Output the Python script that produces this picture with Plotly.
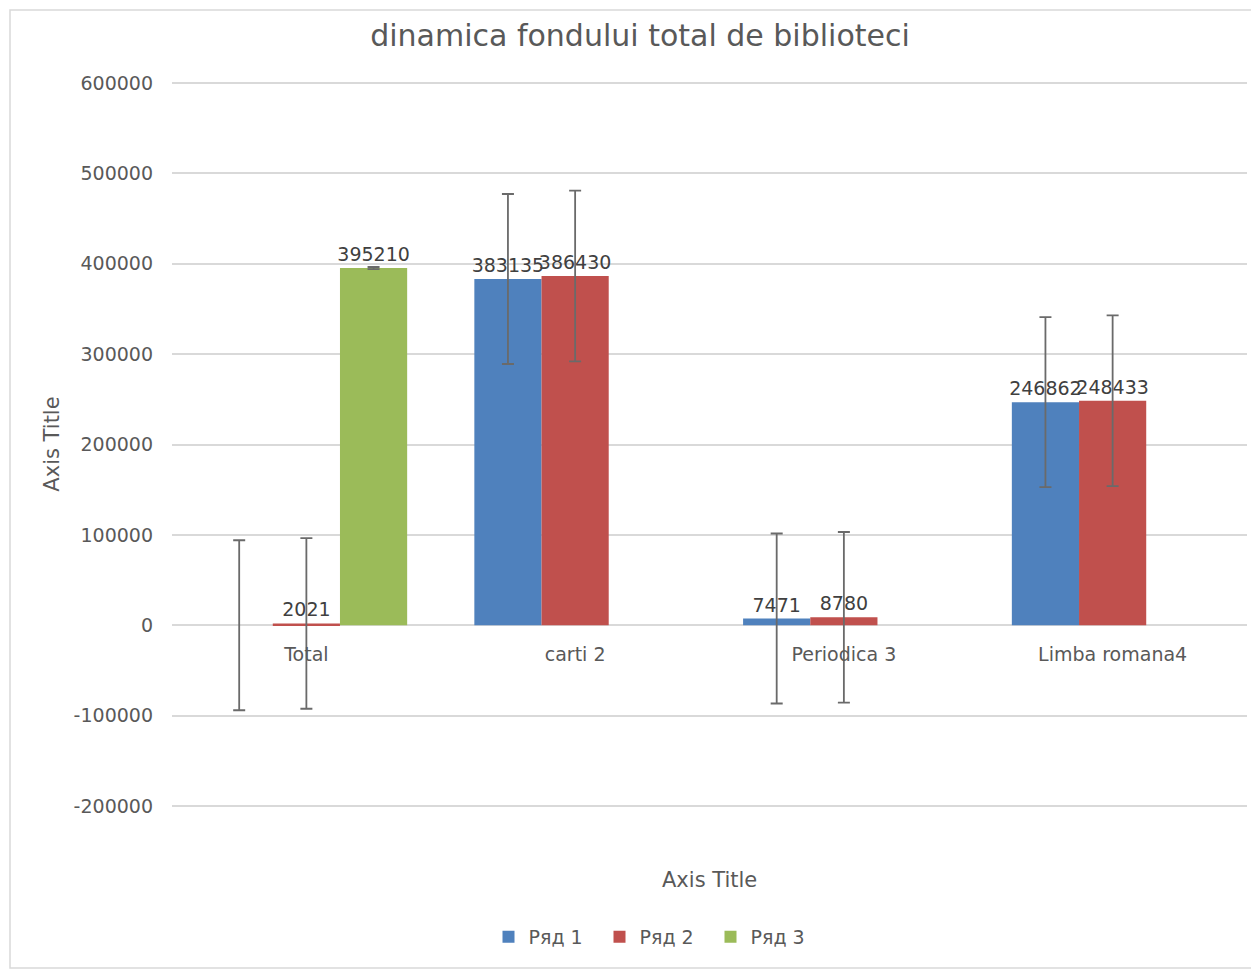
import plotly.graph_objects as go

categories = ["Total", "carti 2", "Periodica 3", "Limba romana4"]
series_names = ["Ряд 1", "Ряд 2", "Ряд 3"]
ryad1 = [0, 383135, 7471, 246862]
ryad2 = [2021, 386430, 8780, 248433]
ryad3 = [395210, None, None, None]
err1 = 94070
err2 = 94390
err3 = 1200
y_tick_vals = [-200000, -100000, 0, 100000, 200000, 300000, 400000, 500000, 600000]
y_tick_text = ["-200000", "-100000", "0", "100000", "200000", "300000", "400000", "500000", "600000"]
title_text = "dinamica fondului total de biblioteci"
x_title = "Axis Title"
y_title = "Axis Title"

colors = ["#4F81BD", "#C0504D", "#9BBB59"]
FONT = "DejaVu Sans"
TXT = "#595959"

# plot-area geometry (figure pixels); page has an 8px body offset
OFF = 8
L, W = 164, 1075
T, H = 72, 728
UPP = (y_tick_vals[-1] - y_tick_vals[0]) / 723.0  # data units per pixel
ymax = y_tick_vals[-1] + (75 - T) * UPP
ymin = ymax - H * UPP


def px(sx):
    return (sx - OFF - L) / W


def py(sy):
    return (T + H - (sy - OFF)) / H


def labels(vals):
    return ["" if (v is None or v == 0) else str(v) for v in vals]


fig = go.Figure()
for name, vals, err, col in zip(series_names, [ryad1, ryad2, ryad3], [err1, err2, err3], colors):
    fig.add_trace(go.Bar(
        name=name, x=categories, y=vals, marker_color=col,
        marker_line_width=0,
        text=labels(vals), textposition="outside", cliponaxis=False,
        constraintext="none",
        textfont=dict(family=FONT, size=19, color="#404040"),
        error_y=dict(type="constant", value=err, color="#6A6A6A", thickness=1.8, width=6),
    ))

fig.update_layout(
    width=1259, height=971,
    margin=dict(l=L, r=1259 - L - W, t=T, b=971 - T - H),
    paper_bgcolor="white", plot_bgcolor="white",
    barmode="group", bargap=0.25, bargroupgap=0,
    font=dict(family=FONT, color=TXT, size=19),
    title=dict(text=title_text, x=(640 - OFF) / 1259, xanchor="center", y=1 - (35 - OFF) / 971,
               yanchor="middle", font=dict(family=FONT, size=30, color=TXT)),
    legend=dict(orientation="h", x=px(655), xanchor="center", y=py(937), yanchor="middle",
                font=dict(family=FONT, size=19, color=TXT), traceorder="normal",
                entrywidth=66, entrywidthmode="pixels"),
    showlegend=True,
    xaxis=dict(anchor="free", position=(0 - ymin) / (ymax - ymin), showgrid=False, showline=False,
               ticks="", tickfont=dict(family=FONT, size=19, color=TXT), ticklabelstandoff=16),
    yaxis=dict(range=[ymin, ymax], tickvals=y_tick_vals, ticktext=y_tick_text,
               showgrid=True, gridcolor="#D9D9D9", gridwidth=1.5, zeroline=True, zerolinecolor="#D9D9D9",
               zerolinewidth=1.5, showline=False, ticks="", ticklabelstandoff=18,
               tickfont=dict(family=FONT, size=19, color=TXT),
               title=dict(text=y_title, font=dict(family=FONT, size=21, color=TXT), standoff=8)),
    annotations=[dict(text=x_title, xref="paper", yref="paper", x=0.5, y=py(880), showarrow=False,
                      xanchor="center", yanchor="middle", font=dict(family=FONT, size=21, color=TXT))],
    shapes=[dict(type="rect", xref="paper", yref="paper", x0=px(10), x1=px(1290),
                 y0=py(968), y1=py(10), line=dict(color="#D9D9D9", width=1.5),
                 fillcolor="rgba(0,0,0,0)", layer="below")],
)

fig.write_html("out.html")
